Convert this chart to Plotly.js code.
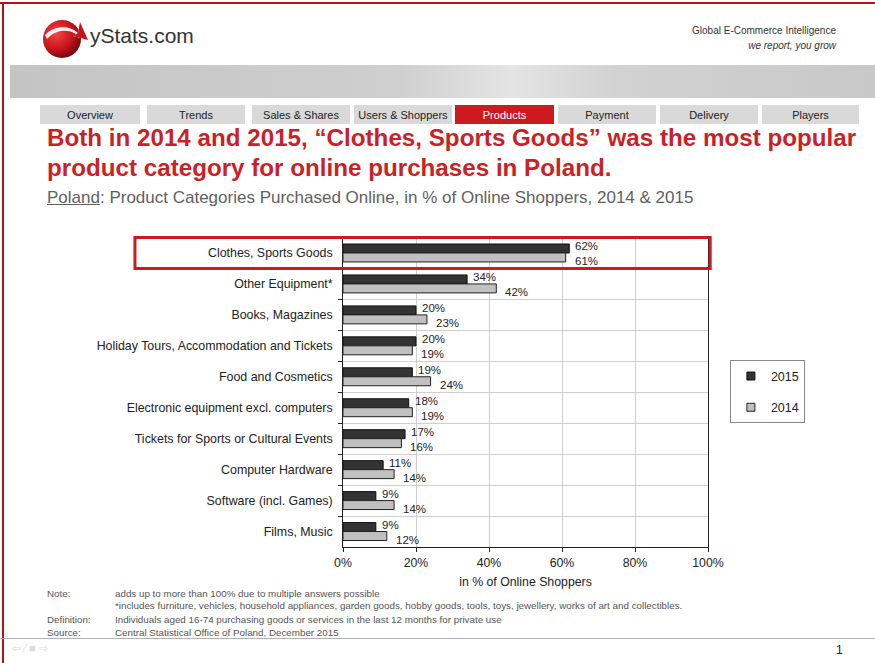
<!DOCTYPE html>
<html>
<head>
<meta charset="utf-8">
<script src="https://cdn.plot.ly/plotly-3.0.1.min.js"></script>
<style>
  html, body { margin:0; padding:0; background:#fff; }
  #page { position:relative; width:875px; height:663px; overflow:hidden; font-family:"Liberation Sans", Arial, sans-serif; }
  .abs { position:absolute; white-space:nowrap; }
  .narrow { font-family:"Liberation Sans Narrow", "Arial Narrow", "Liberation Sans", sans-serif; }
  .tab { position:absolute; top:105px; height:19px; background:#d9d9d9; color:#222; font-size:11px; line-height:20px; text-align:center; }
  .tab.active { background:#cc1a1f; color:#fff; }
  #chart { position:absolute; left:0; top:0; width:875px; height:663px; z-index:2; }
  .note { position:absolute; font-size:9.8px; color:#555; white-space:nowrap; }
</style>
</head>
<body>
<div id="page">
  <!-- frame -->
  <div class="abs" style="left:0;top:2px;width:875px;height:2px;background:#b3141c;"></div>
  <div class="abs" style="left:2px;top:2px;width:2px;height:661px;background:#b3141c;"></div>

  <!-- logo -->
  <svg class="abs" style="left:40px;top:13px;" width="50" height="48" viewBox="0 0 50 48">
    <defs>
      <radialGradient id="lg" cx="0.35" cy="0.35" r="0.7">
        <stop offset="0" stop-color="#f04848"/>
        <stop offset="0.6" stop-color="#c8141c"/>
        <stop offset="1" stop-color="#70080e"/>
      </radialGradient>
    </defs>
    <circle cx="22" cy="26" r="19" fill="url(#lg)"/>
    <path d="M5 22 C 14 12, 30 12, 38 20 L 40 9 L 48 27 L 33 23 L 36 21 C 28 16, 16 16, 7 26 Z" fill="#fff" opacity="0.92"/>
    <path d="M38 20 L 40 9 L 48 27 L 33 23 Z" fill="#c8141c"/>
  </svg>
  <div class="abs" style="left:90px;top:24px;font-size:21px;color:#333;">yStats.com</div>
  <div class="abs narrow" style="right:39px;top:25px;font-size:10px;color:#333;">Global E-Commerce Intelligence</div>
  <div class="abs narrow" style="right:39px;top:40px;font-size:10px;color:#333;font-style:italic;">we report, you grow</div>

  <!-- banner -->
  <div class="abs" style="left:10px;top:65px;width:865px;height:33px;background:linear-gradient(90deg,#c4c4c4 0%,#cfcfcf 45%,#e4e4e4 58%,#d2d2d2 70%,#c8c8c8 100%);"></div>

  <!-- tabs -->
  <div class="tab narrow" style="left:40px;width:100px;">Overview</div>
  <div class="tab narrow" style="left:147px;width:98px;">Trends</div>
  <div class="tab narrow" style="left:252px;width:98px;">Sales &amp; Shares</div>
  <div class="tab narrow" style="left:354px;width:98px;">Users &amp; Shoppers</div>
  <div class="tab narrow active" style="left:455px;width:99px;">Products</div>
  <div class="tab narrow" style="left:558px;width:98px;">Payment</div>
  <div class="tab narrow" style="left:660px;width:98px;">Delivery</div>
  <div class="tab narrow" style="left:762px;width:97px;">Players</div>

  <!-- title -->
  <div class="abs" style="left:47px;top:123px;font-size:24.2px;font-weight:bold;color:#cc1f26;line-height:30px;">Both in 2014 and 2015, “Clothes, Sports Goods” was the most popular<br>product category for online purchases in Poland.</div>
  <div class="abs" style="left:47px;top:188px;font-size:17px;color:#5f5f5f;"><span style="text-decoration:underline;">Poland</span>: Product Categories Purchased Online, in % of Online Shoppers, 2014 &amp; 2015</div>

  <!-- notes -->
  <div class="note narrow" style="left:47px;top:588px;">Note:</div>
  <div class="note narrow" style="left:115px;top:588px;">adds up to more than 100% due to multiple answers possible</div>
  <div class="note narrow" style="left:115px;top:600px;">*includes furniture, vehicles, household appliances, garden goods, hobby goods, tools, toys, jewellery, works of art and collectibles.</div>
  <div class="note narrow" style="left:47px;top:614px;">Definition:</div>
  <div class="note narrow" style="left:115px;top:614px;">Individuals aged 16-74 purchasing goods or services in the last 12 months for private use</div>
  <div class="note narrow" style="left:47px;top:627px;">Source:</div>
  <div class="note narrow" style="left:115px;top:627px;">Central Statistical Office of Poland, December 2015</div>

  <!-- footer -->
  <div class="abs" style="left:0;top:638px;width:875px;height:1px;background:#b0b0b0;"></div>
  <div class="abs" style="left:12px;top:642px;font-size:11px;color:#dcdcdc;">⇦ ⁄ ■ ⇨</div>
  <div class="abs" style="left:836px;top:643px;font-size:12px;color:#222;">1</div>

  <div id="chart"></div>
</div>
<script>
const categories = [
  "Clothes, Sports Goods",
  "Other Equipment*",
  "Books, Magazines",
  "Holiday Tours, Accommodation and Tickets",
  "Food and Cosmetics",
  "Electronic equipment excl. computers",
  "Tickets for Sports or Cultural Events",
  "Computer Hardware",
  "Software (incl. Games)",
  "Films, Music"
];
const values2015 = [62, 34, 20, 20, 19, 18, 17, 11, 9, 9];
const values2014 = [61, 42, 23, 19, 24, 19, 16, 14, 14, 12];
const xTickVals = [0, 20, 40, 60, 80, 100];
const xTickText = ["0%", "20%", "40%", "60%", "80%", "100%"];
const seriesNames = ["2015", "2014"];
const seriesFill = ["#333333", "#c0c0c0"];

const traces = [
  {
    type: "bar", orientation: "h", name: seriesNames[0],
    y: categories, x: values2015,
    marker: { color: seriesFill[0], line: { color: "#111", width: 1 } },
    showlegend: false, hoverinfo: "skip"
  },
  {
    type: "bar", orientation: "h", name: seriesNames[1],
    y: categories, x: values2014,
    marker: { color: seriesFill[1], line: { color: "#222", width: 1 } },
    showlegend: false, hoverinfo: "skip"
  },
  {
    type: "scatter", mode: "markers", name: seriesNames[0], x: [null], y: [null],
    marker: { symbol: "square", size: 8, color: seriesFill[0], line: { color: "#111", width: 1 } },
    legendgroup: "a"
  },
  {
    type: "scatter", mode: "markers", name: seriesNames[1], x: [null], y: [null],
    marker: { symbol: "square", size: 8, color: seriesFill[1], line: { color: "#222", width: 1 } },
    legendgroup: "b"
  }
];

// value labels, placed through the data scales
const labelFont = { size: 11.5, color: "#222", family: "Liberation Sans, Arial, sans-serif" };
const annotations = [];
categories.forEach((c, i) => {
  annotations.push({
    xref: "x", yref: "y", x: values2015[i], y: c, text: values2015[i] + "%",
    showarrow: false, xanchor: "left", yanchor: "middle", xshift: 4, yshift: 7,
    font: labelFont
  });
  annotations.push({
    xref: "x", yref: "y", x: values2014[i], y: c, text: values2014[i] + "%",
    showarrow: false, xanchor: "left", yanchor: "middle", xshift: 7, yshift: -8,
    font: labelFont
  });
});

const layout = {
  width: 875, height: 663,
  margin: { l: 343, r: 167, t: 236, b: 116, pad: 0 },
  paper_bgcolor: "rgba(0,0,0,0)",
  plot_bgcolor: "#fff",
  font: { family: "Liberation Sans, Arial, sans-serif", color: "#222", size: 12 },
  barmode: "group", bargap: 0.42, bargroupgap: 0,
  showlegend: true,
  legend: {
    x: 1.06, y: 0.6, xanchor: "left", yanchor: "top",
    bgcolor: "#fff", bordercolor: "#888", borderwidth: 1,
    traceorder: "grouped", tracegroupgap: 12, itemwidth: 30,
    font: { size: 12.5, color: "#222" }
  },
  xaxis: {
    range: [0, 100], tickvals: xTickVals, ticktext: xTickText,
    showgrid: true, gridcolor: "#cfcfcf", gridwidth: 1,
    showline: true, linecolor: "#222", linewidth: 1,
    ticks: "outside", ticklen: 4, tickcolor: "#222",
    zeroline: false, fixedrange: true,
    tickfont: { size: 12.3, color: "#222" },
    title: { text: "in % of Online Shoppers", font: { size: 12.3, color: "#222" }, standoff: 8 }
  },
  yaxis: {
    type: "category", autorange: "reversed",
    tickson: "boundaries", ticks: "outside", ticklen: 4, tickcolor: "#222",
    showgrid: true, gridcolor: "#cfcfcf", gridwidth: 1,
    showline: true, linecolor: "#222", linewidth: 1, mirror: true,
    tickfont: { size: 12.4, color: "#222" }, ticksuffix: "  ",
    fixedrange: true
  },
  annotations: annotations,
  shapes: [
    {
      type: "rect", xref: "paper", yref: "y",
      x0: -0.57, x1: 1.006, y0: -0.5, y1: 0.5,
      line: { color: "#cc1a1f", width: 3 }, fillcolor: "rgba(0,0,0,0)"
    }
  ]
};

Plotly.newPlot("chart", traces, layout, { displayModeBar: false, staticPlot: true });
</script>
</body>
</html>
